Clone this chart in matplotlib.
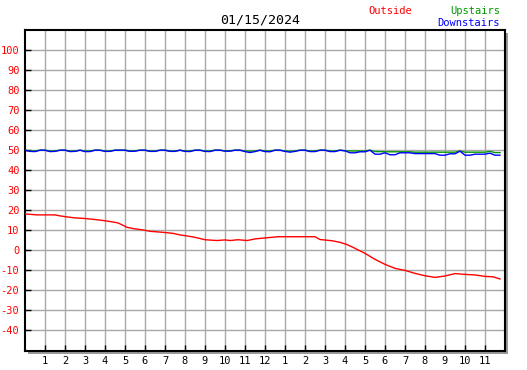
import numpy as np
import matplotlib
matplotlib.use("Agg")
import matplotlib.pyplot as plt
from matplotlib.patches import Rectangle

plt.rcParams['axes.unicode_minus'] = False
plt.rcParams['font.family'] = ['DejaVu Sans Mono']

title = "01/15/2024"
legend_names = ["Outside", "Upstairs", "Downstairs"]
colors = ["#ff0000", "#009900", "#0000ff"]

# Outside temperature (hour, value)
outside_hours = [0.0, 0.6, 1.5, 1.75, 2.1, 2.5, 3.0, 3.5, 3.9, 4.25, 4.65, 4.9, 5.1, 5.5,
                 5.9, 6.25, 6.9, 7.4, 7.75, 8.1, 8.5, 9.0, 9.6, 10.0, 10.25, 10.65, 11.1,
                 11.5, 12.0, 12.65, 13.75, 14.5, 14.75, 15.35, 15.75, 16.1, 16.5, 17.0,
                 17.5, 18.0, 18.5, 19.0, 19.5, 20.0, 20.5, 21.0, 21.5, 22.0, 22.5, 23.0,
                 23.4, 23.75]
outside_vals = [18.2, 17.7, 17.7, 17.2, 16.7, 16.2, 15.9, 15.4, 14.9, 14.4, 13.7, 12.5, 11.5, 10.7,
                10.2, 9.5, 9.0, 8.5, 7.7, 7.2, 6.5, 5.3, 4.9, 5.2, 4.9, 5.3, 4.9,
                5.7, 6.2, 6.8, 6.8, 6.8, 5.4, 4.8, 4.0, 2.9, 1.0, -1.5,
                -4.5, -7.0, -9.0, -10.0, -11.5, -12.7, -13.5, -12.8, -11.6, -12.0, -12.3, -13.0,
                -13.2, -14.3]

# Indoor series, quarter-hour samples from 0:00 to 23:45
downstairs_vals = [
    50.0, 49.4, 49.3, 50.0,
    50.0, 49.3, 49.4, 50.0,
    50.0, 49.3, 49.4, 50.0,
    49.3, 49.3, 50.0, 50.0,
    49.4, 49.4, 50.0, 50.0,
    50.0, 49.4, 49.5, 50.0,
    50.0, 49.4, 49.4, 50.0,
    50.0, 49.4, 49.4, 50.0,
    49.4, 49.3, 50.0, 50.0,
    49.4, 49.3, 50.0, 50.0,
    49.5, 49.5, 50.0, 50.0,
    49.3, 48.8, 49.3, 50.0,
    49.3, 49.2, 50.0, 50.0,
    49.4, 49.0, 49.4, 50.0,
    50.0, 49.3, 49.3, 50.0,
    50.0, 49.3, 49.3, 50.0,
    49.7, 48.7, 48.7, 49.2,
    49.2, 50.0, 48.0, 48.0,
    48.7, 47.7, 47.7, 48.7,
    48.7, 48.7, 48.3, 48.3,
    48.3, 48.3, 48.3, 47.5,
    47.5, 48.2, 48.2, 49.5,
    47.5, 47.5, 48.0, 48.0,
    48.0, 48.5, 47.5, 47.5,
]
upstairs_vals = [
    50.0, 49.6, 49.6, 50.0,
    50.0, 49.6, 49.6, 50.0,
    50.0, 49.6, 49.6, 50.0,
    49.6, 49.6, 50.0, 50.0,
    49.6, 49.6, 50.0, 50.0,
    50.0, 49.6, 49.7, 50.0,
    50.0, 49.6, 49.6, 50.0,
    50.0, 49.6, 49.6, 50.0,
    49.6, 49.6, 50.0, 50.0,
    49.6, 49.6, 50.0, 50.0,
    49.7, 49.7, 50.0, 50.0,
    49.6, 49.5, 49.6, 50.0,
    49.6, 49.6, 50.0, 50.0,
    49.6, 49.5, 49.6, 50.0,
    50.0, 49.6, 49.6, 50.0,
    50.0, 49.6, 49.6, 50.0,
    49.7, 49.6, 49.6, 49.6,
    49.6, 50.0, 49.3, 49.3,
    49.2, 49.2, 49.2, 49.2,
    49.2, 49.2, 49.0, 49.0,
    49.0, 49.0, 49.0, 49.0,
    49.0, 49.0, 49.0, 49.6,
    49.0, 49.0, 49.0, 49.0,
    49.0, 49.4, 48.8, 48.8,
]
indoor_hours = np.arange(len(downstairs_vals)) * 0.25

y_ticks = list(range(-40, 101, 10))
x_ticks = list(range(1, 24))
x_labels = [str(h if h <= 12 else h - 12) for h in x_ticks]

W, H = 527, 370
fig = plt.figure(figsize=(W / 100, H / 100), dpi=100)
fig.patch.set_facecolor("white")

left, top, right, bottom = 25, 30, 505, 350.5
ax = fig.add_axes([left / W, 1 - bottom / H, (right - left) / W, (bottom - top) / H])

# shadow
fig.patches.append(Rectangle(((left + 3) / W, 1 - (bottom + 3) / H), (right - left) / W,
                             (bottom - top) / H, transform=fig.transFigure,
                             facecolor="#999999", edgecolor="none", zorder=0))
ax.set_zorder(1)
ax.set_facecolor("white")

ax.set_xlim(0, 24)
ax.set_ylim(-50, 110)

for v in y_ticks:
    ax.axhline(v, color="#a8a8a8", lw=1.0, zorder=1)
for h in x_ticks:
    ax.axvline(h, color="#a8a8a8", lw=1.0, zorder=1)

ax.plot(indoor_hours, upstairs_vals, color=colors[1], lw=1.0, zorder=3)
ax.plot(indoor_hours, downstairs_vals, color=colors[2], lw=1.0, zorder=4)
ax.plot(outside_hours, outside_vals, color=colors[0], lw=1.0, zorder=5)

ax.set_yticks(y_ticks)
ax.set_yticklabels([str(v) for v in y_ticks], color="#ff0000", fontsize=7.5)
ax.set_xticks(x_ticks)
ax.set_xticklabels(x_labels, color="black", fontsize=7.5)
ax.tick_params(axis="both", direction="in", length=4, width=1, color="black", pad=4)
ax.tick_params(axis="y", pad=4)

for s in ax.spines.values():
    s.set_color("black")
    s.set_linewidth(1.5)

fig.text(260 / W, 1 - 20 / H, title, ha="center", va="center", fontsize=9.5, color="black")
fig.text(390 / W, 1 - 11 / H, legend_names[0], ha="center", va="center", fontsize=7.5, color=colors[0])
fig.text(500 / W, 1 - 11 / H, legend_names[1], ha="right", va="center", fontsize=7.5, color=colors[1])
fig.text(500 / W, 1 - 23 / H, legend_names[2], ha="right", va="center", fontsize=7.5, color=colors[2])

fig.savefig("out.png", dpi=100)
